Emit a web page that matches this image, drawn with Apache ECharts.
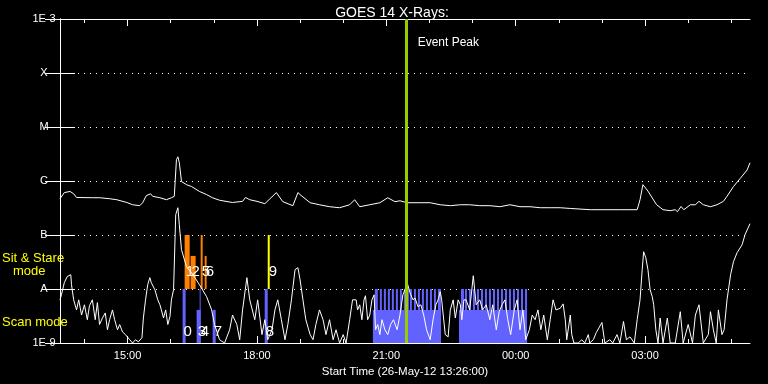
<!DOCTYPE html>
<html><head><meta charset="utf-8">
<script src="https://cdn.jsdelivr.net/npm/echarts@6/dist/echarts.min.js"></script>
<style>html,body{margin:0;padding:0;background:#000}#c{width:768px;height:384px}</style>
</head><body><div id="c"></div>
<script>
// Times are minutes after the start time (26-May-12 13:26:00 UT)
const startLabel = '26-May-12 13:26:00';
const titleText = 'GOES 14 X-Rays:';

// GOES long channel (1-8 A) flux, W/m^2
const longTime = [0,6,14,19,23,45,55,69,79,93,101,111,115,120,126,129,139,148,155,159,162,164,166,169,176,183,194,204,212,222,240,254,258,264,274,285,301,310,324,331,334,348,361,375,389,403,410,417,431,445,456,466,473,483,501,515,529,543,557,570,584,598,612,626,640,654,668,682,696,710,738,779,803,807,811,818,830,839,849,856,859,864,868,877,884,889,895,905,914,923,928,937,946,956,960];
const longFlux = [4.7e-7,6.1e-7,6.4e-7,5.8e-7,4.95e-7,4.9e-7,4.9e-7,4.7e-7,4.5e-7,4.0e-7,3.63e-7,3.49e-7,3.96e-7,5.35e-7,5.8e-7,5.2e-7,4.9e-7,4.5e-7,4.9e-7,5.2e-7,2.48e-6,2.8e-6,2.18e-6,9.8e-7,8.55e-7,7.9e-7,6.4e-7,5.6e-7,4.9e-7,4.4e-7,4.0e-7,4.2e-7,4.95e-7,4.5e-7,4.2e-7,3.8e-7,6.1e-7,4.14e-7,3.49e-7,6.1e-7,5.6e-7,3.96e-7,3.63e-7,3.34e-7,3.2e-7,3.63e-7,4.5e-7,3.34e-7,3.63e-7,3.96e-7,4.9e-7,4.14e-7,4.3e-7,3.96e-7,3.96e-7,3.96e-7,3.63e-7,3.49e-7,3.63e-7,3.63e-7,3.49e-7,3.49e-7,3.34e-7,3.63e-7,3.34e-7,3.34e-7,3.2e-7,3.2e-7,3.2e-7,3.1e-7,2.94e-7,2.94e-7,2.94e-7,4.5e-7,8.55e-7,6.5e-7,3.63e-7,2.94e-7,2.82e-7,2.94e-7,2.7e-7,3.37e-7,2.94e-7,3.63e-7,3.63e-7,4.2e-7,3.63e-7,3.34e-7,3.63e-7,4.2e-7,5.2e-7,7.9e-7,1.1e-6,1.6e-6,2.18e-6];

// GOES short channel (0.5-4 A) flux, W/m^2
const shortTime = [0,2,6,10,15,16,19,23,26,30,34,38,41,45,49,52,55,59,63,66,69,73,76,80,83,87,91,97,101,105,109,114,116,119,122,125,127,132,136,139,141,144,147,150,153,155,158,161,164,166,169,176,185,194,204,211,215,222,229,236,240,246,250,254,260,264,271,275,281,285,289,295,299,303,308,313,317,322,327,331,334,338,342,348,352,356,361,366,370,375,380,384,389,394,398,403,407,412,414,417,420,423,425,428,431,434,437,439,442,445,448,452,456,460,464,469,473,477,480,483,487,491,494,498,502,506,510,515,519,523,526,529,531,536,540,543,547,550,554,557,559,562,565,570,575,579,584,588,593,598,602,607,611,615,619,623,627,632,636,640,644,648,653,657,661,665,669,673,678,682,686,690,696,700,703,705,710,712,715,721,726,730,735,737,742,746,754,758,765,769,775,779,784,788,793,799,803,807,810,812,815,818,821,824,826,829,832,835,839,845,849,856,863,867,874,880,884,889,895,902,905,909,913,916,921,924,928,933,937,942,949,953,960];
const shortFlux = [6.3e-9,7.8e-9,1.31e-8,1.7e-8,1.84e-8,1.2e-8,6.3e-9,4.1e-9,6.3e-9,3.3e-9,5.1e-9,2.7e-9,4.9e-9,6.3e-9,2.7e-9,5.6e-9,2.2e-9,2.9e-9,3.6e-9,1.76e-9,2.7e-9,4.1e-9,2.7e-9,1.76e-9,2.2e-9,1.6e-9,1.43e-9,1.15e-9,1.0e-9,1.15e-9,1.05e-9,1.25e-9,2.9e-9,6.3e-9,1.2e-8,1.62e-8,1.31e-8,9.7e-9,6.3e-9,5.1e-9,4.1e-9,2.9e-9,4.1e-9,2.2e-9,3.1e-9,6.3e-9,9.7e-9,2.38e-7,3.2e-7,1.55e-7,5.35e-8,2.59e-8,1.84e-8,1.2e-8,7.2e-9,4.1e-9,2.2e-9,1.15e-9,1.0e-9,1.76e-9,3.3e-9,2.2e-9,1.15e-9,4.1e-9,1.62e-8,6.3e-9,2.7e-9,6.3e-9,1.43e-9,2.7e-9,1.15e-9,1.76e-9,4.1e-9,6.3e-9,2.7e-9,1.15e-9,2.2e-9,6.3e-9,2.28e-8,2.48e-8,1.48e-8,6.3e-9,2.7e-9,1.43e-9,1.15e-9,2.2e-9,4.1e-9,2.7e-9,1.43e-9,2.7e-9,1.15e-9,1.76e-9,1.0e-9,1.43e-9,1.0e-9,2.7e-9,6.3e-9,6.3e-9,4.1e-9,5.1e-9,2.7e-9,6.3e-9,7.5e-9,2.7e-9,3.3e-9,6.3e-9,7.8e-9,1.76e-9,2.2e-9,1.43e-9,2.7e-9,1.76e-9,1.43e-9,2.2e-9,2.7e-9,1.76e-9,3.3e-9,7.8e-9,9.7e-9,1.31e-8,8.5e-9,6.3e-9,6.8e-9,4.7e-9,5.1e-9,3.3e-9,1.76e-9,1.15e-9,2.7e-9,5.1e-9,6.3e-9,8.9e-9,6.3e-9,1.43e-9,1.3e-9,4.1e-9,6.3e-9,2.9e-9,6.3e-9,5.1e-9,2.7e-9,6.3e-9,6.3e-9,4.1e-9,1.76e-8,5.1e-9,6.3e-9,4.1e-9,5.1e-9,2.7e-9,5.1e-9,1.76e-9,3.8e-9,5.1e-9,6.3e-9,2.7e-9,1.43e-9,4.1e-9,6.3e-9,1.76e-9,4.1e-9,1.15e-9,1.76e-9,3.3e-9,2.7e-9,4.1e-9,1.76e-9,3.3e-9,1.15e-9,2.7e-9,6.3e-9,4.1e-9,4.4e-9,5.3e-9,2.7e-9,1.15e-9,3.3e-9,1.43e-9,1.0e-9,1.0e-9,1.15e-9,1.0e-9,1.43e-9,1.0e-9,1.15e-9,1.55e-9,2.4e-9,1.0e-9,1.15e-9,1.0e-9,1.43e-9,1.0e-9,2.5e-9,1.15e-9,1.3e-9,1.0e-9,2.7e-9,6.3e-9,2.28e-8,4.9e-8,3.8e-8,2.28e-8,9.7e-9,7.2e-9,5.1e-9,1.76e-9,1.0e-9,2.9e-9,1.0e-9,2.9e-9,1.0e-9,1.0e-9,3.8e-9,1.0e-9,2.2e-9,1.0e-9,3.3e-9,5.1e-9,1.0e-9,1.43e-9,3.8e-9,1.76e-9,1.0e-9,4.1e-9,1.43e-9,1.76e-9,6.3e-9,1.84e-8,3.2e-8,4.7e-8,6.6e-8,1.01e-7,1.62e-7];

// Flux class levels (decades 1E-9 .. 1E-3)
const yLevelLabels = ['1E-9','A','B','C','M','X','1E-3'];

// Time axis ticks
const hourTicks = [34,94,154,214,274,334,394,454,514,574,634,694,754,814,874,934];
const majorTicks = [94,274,454,634,814];
const majorLabels = ['15:00','18:00','21:00','00:00','03:00'];

// Numbered observation events
const eventIds   = ['0','1','2','3','4','5','6','7','8','9'];
const eventKind  = ['scan','stare','stare','scan','scan','stare','stare','scan','scan','stare2'];
const eventStart = [170.6,173.4,181.7,190.1,194.3,195.7,201.3,212.4,284.8,289.0];
const eventEnd   = [174.8,180.4,188.7,195.7,195.7,198.5,204.0,216.6,289.0,291.8];
const eventTop   = [1e-8,1e-7,4.1e-8,4.1e-9,1e-8,1e-7,4.1e-8,4.1e-9,1e-8,1e-7];

// Long scan-mode sequences (continuous low part)
const blockStart = [435.3,555.1];
const blockEnd   = [530.0,649.8];
const blockTop   = [4.1e-9,4.1e-9];

// Individual scan dwells inside the sequences (reach 1E-8)
const dwellStart = [438.0,445.0,450.6,456.2,461.7,467.3,472.9,478.4,482.6,486.8,492.4,498.0,503.5,509.1,514.7,520.3,525.8,
                    557.8,563.4,569.0,574.5,580.1,585.7,591.3,596.8,602.4,608.0,613.5,619.1,624.7,630.2,635.8,641.4,647.0];
const dwellEnd   = [442.2,447.8,453.4,459.0,464.5,470.1,475.6,481.2,485.4,489.6,495.2,500.7,506.3,511.9,517.5,523.0,530.0,
                    562.0,566.2,571.7,577.3,582.9,588.5,594.0,599.6,605.2,610.8,616.3,621.9,627.5,633.0,638.6,644.2,649.8];

const eventPeak = 482.3; // minutes after start (~21:28)

// ---------------------------------------------------------------
const FONT = 'Liberation Sans';
const kindColor = {scan:'#6262ff', stare:'#ff8000', stare2:'#ffff00'};
const kindBase = {scan:1e-9, stare:1e-8, stare2:1e-8};

const barData = [];
for (let i = 0; i < blockStart.length; i++) barData.push([blockStart[i], blockEnd[i], 1e-9, blockTop[i], 'scan']);
for (let i = 0; i < dwellStart.length; i++) barData.push([dwellStart[i], dwellEnd[i], 1e-9, 1e-8, 'scan']);
for (let i = 0; i < eventIds.length; i++) barData.push([eventStart[i], eventEnd[i], kindBase[eventKind[i]], eventTop[i], eventKind[i]]);

const labelData = eventIds.map((id, i) => [eventStart[i], kindBase[eventKind[i]], id, eventKind[i]]);
const peakLabel = [eventPeak, 1e-3, 'Event Peak', 'peak'];
const allLabels = labelData.concat([peakLabel]);

const chart = echarts.init(document.getElementById('c'), null, {renderer:'canvas'});

const xBase = {type:'value', min:0, max:960, gridIndex:0,
  splitLine:{show:false}, axisLine:{show:false}, axisLabel:{show:false}, axisTick:{show:false}};
const white = {color:'#ffffff', width:1};

const option = {
  backgroundColor:'#000000',
  animation:false,
  title:{text:titleText, left:387, top:1, textAlign:'center',
    textStyle:{color:'#fff', fontSize:14, fontWeight:'normal', fontFamily:FONT}},
  grid:{left:60, right:18, top:19, bottom:41},
  xAxis:[
    Object.assign({}, xBase, {position:'bottom',
      axisLine:{show:true, lineStyle:white},
      axisTick:{show:true, inside:true, length:7, customValues:majorTicks, lineStyle:white},
      axisLabel:{show:true, customValues:majorTicks, color:'#fff', fontSize:11, fontFamily:FONT, margin:7,
        formatter:(v) => majorLabels[majorTicks.indexOf(v)]},
      name:'Start Time (' + startLabel + ')', nameLocation:'middle', nameGap:18,
      nameTextStyle:{color:'#fff', fontSize:11.5, fontFamily:FONT}}),
    Object.assign({}, xBase, {position:'bottom',
      axisTick:{show:true, inside:true, length:4, customValues:hourTicks, lineStyle:white}}),
    Object.assign({}, xBase, {position:'top',
      axisLine:{show:true, lineStyle:white},
      axisTick:{show:true, inside:true, length:7, customValues:majorTicks, lineStyle:white}}),
    Object.assign({}, xBase, {position:'top',
      axisTick:{show:true, inside:true, length:4, customValues:hourTicks, lineStyle:white}})
  ],
  yAxis:[
    {type:'log', logBase:10, min:1e-9, max:1e-3, position:'left',
      axisLine:{show:true, lineStyle:white},
      axisTick:{show:true, inside:true, length:15, lineStyle:white},
      minorTick:{show:false},
      axisLabel:{color:'#fff', fontSize:11, fontFamily:FONT, align:'center', margin:16,
        formatter:(v) => yLevelLabels[Math.round(Math.log10(v)) + 9]},
      splitLine:{show:true, lineStyle:{color:'#fff', width:1, type:[1,5]}}},
    {type:'log', logBase:10, min:1e-9, max:1e-3, position:'right',
      axisLine:{show:true, lineStyle:white},
      axisTick:{show:true, inside:true, length:15, lineStyle:white},
      axisLabel:{show:false}, splitLine:{show:false}}
  ],
  graphic:[
    {type:'text', left:2, top:252, style:{text:'Sit & Stare', fill:'#ffff00', font:'13px ' + FONT}},
    {type:'text', left:13, top:265, style:{text:'mode', fill:'#ffff00', font:'13px ' + FONT}},
    {type:'text', left:2, top:316, style:{text:'Scan mode', fill:'#ffff00', font:'13px ' + FONT}}
  ],
  series:[
    {type:'custom', name:'modes', xAxisIndex:0, yAxisIndex:0, z:1, clip:true,
      encode:{x:[0,1], y:[2,3]},
      data:barData,
      renderItem:(params, api) => {
        const p0 = api.coord([api.value(0), api.value(3)]);
        const p1 = api.coord([api.value(1), api.value(2)]);
        const kind = barData[params.dataIndex][4];
        return {type:'rect', shape:{x:p0[0], y:p0[1], width:p1[0]-p0[0], height:p1[1]-p0[1]},
          style:{fill:kindColor[kind]}};
      }},
    {type:'line', name:'1-8 A', xAxisIndex:0, yAxisIndex:0, z:3, showSymbol:false, symbol:'none',
      lineStyle:{color:'#fff', width:1}, data:longTime.map((t,i) => [t, longFlux[i]])},
    {type:'line', name:'0.5-4 A', xAxisIndex:0, yAxisIndex:0, z:3, showSymbol:false, symbol:'none',
      lineStyle:{color:'#fff', width:1}, data:shortTime.map((t,i) => [t, shortFlux[i]])},
    {type:'line', name:'peak', xAxisIndex:0, yAxisIndex:0, z:5, data:[],
      markLine:{silent:true, symbol:['none','none'], label:{show:false},
        lineStyle:{color:'#99cc00', width:3, type:'solid'}, data:[{xAxis:eventPeak}]}},
    {type:'custom', name:'labels', xAxisIndex:0, yAxisIndex:0, z:6, clip:false,
      encode:{x:0, y:1},
      data:allLabels,
      renderItem:(params, api) => {
        const d = allLabels[params.dataIndex];
        const p = api.coord([d[0], d[1]]);
        if (d[3] === 'peak') {
          return {type:'text', x:p[0] + 11, y:p[1] + 24,
            style:{text:d[2], fill:'#fff', font:'12px ' + FONT, align:'left', verticalAlign:'middle'}};
        }
        const dy = d[3] === 'scan' ? -11 : -17.5;
        return {type:'text', x:p[0] + 1, y:p[1] + dy,
          style:{text:d[2], fill:'#fff', font:'15px ' + FONT, align:'left', verticalAlign:'middle'}};
      }}
  ]
};
chart.setOption(option);
</script>
</body></html>
